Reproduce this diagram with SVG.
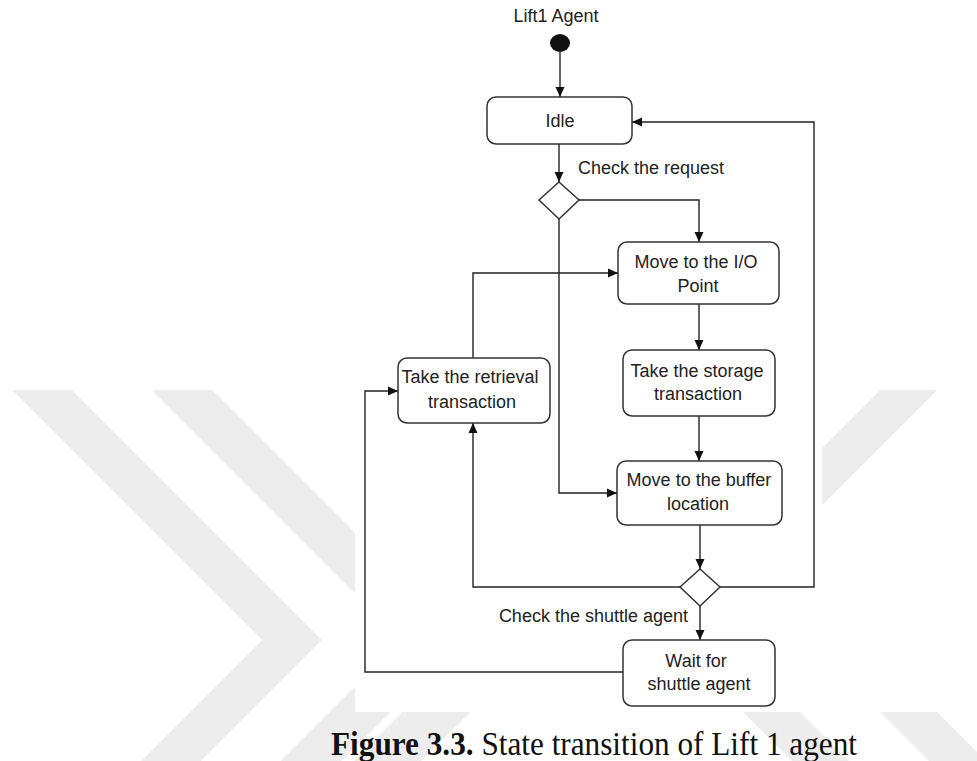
<svg xmlns="http://www.w3.org/2000/svg" width="977" height="761" viewBox="0 0 977 761">
<style>
.box{fill:#fff;stroke:#333;stroke-width:1.5}
.dia{fill:#fff;stroke:#333;stroke-width:1.5}
.wm{fill:#ededed}
.t{font-family:"Liberation Sans",Arial,sans-serif;font-size:18px;fill:#222;text-anchor:middle}
.conn path{fill:none;stroke:#222;stroke-width:1.4}
</style>
<defs>
<marker id="ah" markerUnits="userSpaceOnUse" markerWidth="10" markerHeight="10" viewBox="0 0 10 10" refX="10" refY="5" orient="auto">
<path d="M0,0.5 L10,5 L0,9.5 Z" fill="#111"/>
</marker>
</defs>
<rect width="977" height="761" fill="#fff"/>
<g id="watermark">
<polygon class="wm" points="12,390 72,390 322,640 201,761 141,761 262,640"/>
<polygon class="wm" points="152,390 212,390 462,640 341,761 281,761 402,640"/>
<polygon class="wm" points="403,712 470,712 421,761 354,761"/>
<polygon class="wm" points="743,712 800,712 849,761 792,761"/>
<polygon class="wm" points="880,712 937,712 986,761 929,761"/>
<polygon class="wm" points="880,390 937,390 822,505 822,448"/>
</g>
<rect x="355" y="0" width="467" height="712" fill="#fff"/>
<g class="conn" id="connectors">
<path d="M560,52 V97" marker-end="url(#ah)"/>
<path d="M559,144 V182" marker-end="url(#ah)"/>
<path d="M579,200 H699 V242" marker-end="url(#ah)"/>
<path d="M559,219 V493 H617" marker-end="url(#ah)"/>
<path d="M473,358 V273 H618" marker-end="url(#ah)"/>
<path d="M699,304 V350" marker-end="url(#ah)"/>
<path d="M699,416 V461" marker-end="url(#ah)"/>
<path d="M700,525 V569" marker-end="url(#ah)"/>
<path d="M680,587 H473 V423" marker-end="url(#ah)"/>
<path d="M720,587 H814 V122 H632" marker-end="url(#ah)"/>
<path d="M700,606 V640" marker-end="url(#ah)"/>
<path d="M623,672 H365 V391 H398" marker-end="url(#ah)"/>
</g>
<g id="title"><text class="t" x="556" y="22">Lift1 Agent</text></g>
<g id="initial"><ellipse cx="560" cy="43" rx="10" ry="9" fill="#111"/></g>
<g id="idle"><rect class="box" x="487" y="97" width="145" height="47" rx="9"/><text class="t" x="560" y="127">Idle</text></g>
<g id="decision1"><polygon class="dia" points="559,182 579,200 559,219 539,200"/><text class="t" x="578" y="174" style="text-anchor:start">Check the request</text></g>
<g id="moveIO"><rect class="box" x="618" y="242" width="161" height="62" rx="9"/><text class="t" x="696" y="268">Move to the I/O</text><text class="t" x="698" y="292">Point</text></g>
<g id="retrieval"><rect class="box" x="398" y="358" width="152" height="65" rx="9"/><text class="t" x="470" y="383">Take the retrieval</text><text class="t" x="472" y="408">transaction</text></g>
<g id="storage"><rect class="box" x="623" y="350" width="152" height="66" rx="9"/><text class="t" x="697" y="377">Take the storage</text><text class="t" x="698" y="400">transaction</text></g>
<g id="buffer"><rect class="box" x="617" y="461" width="165" height="64" rx="9"/><text class="t" x="699" y="486">Move to the buffer</text><text class="t" x="698" y="510">location</text></g>
<g id="decision2"><polygon class="dia" points="700,569 720,587 700,606 680,587"/><text class="t" x="688" y="622" style="text-anchor:end">Check the shuttle agent</text></g>
<g id="wait"><rect class="box" x="623" y="640" width="152" height="66" rx="9"/><text class="t" x="696" y="667">Wait for</text><text class="t" x="699" y="690">shuttle agent</text></g>
<g id="caption"><text x="331" y="755" textLength="526" lengthAdjust="spacingAndGlyphs" style="font-family:'Liberation Serif','Times New Roman',serif;font-size:34px;fill:#111"><tspan font-weight="bold">Figure 3.3.</tspan> State transition of Lift 1 agent</text></g>
</svg>
